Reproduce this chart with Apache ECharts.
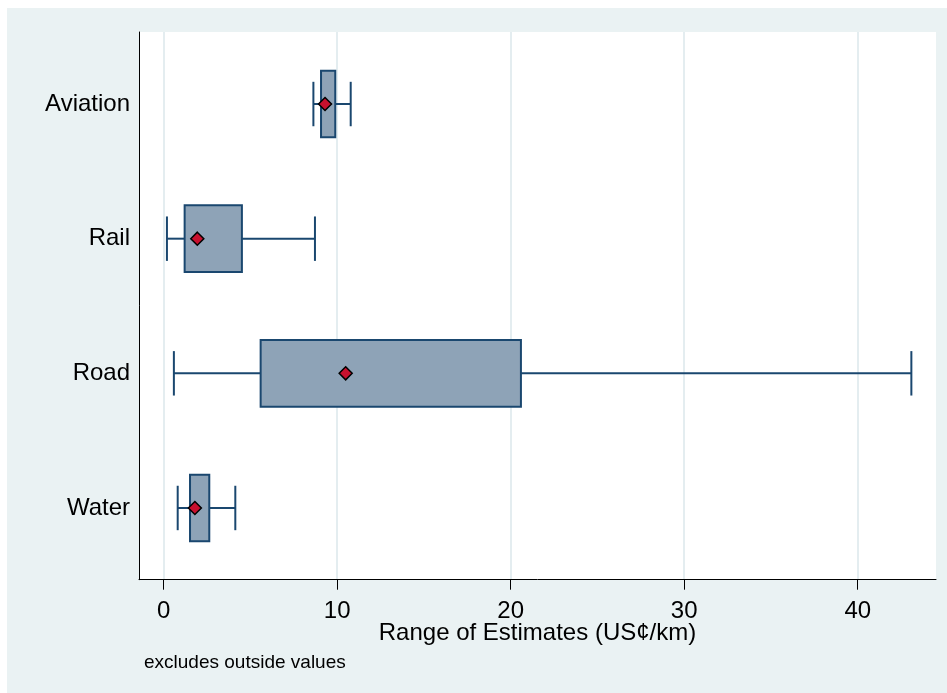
<!DOCTYPE html>
<html>
<head>
<meta charset="utf-8">
<script src="https://cdn.jsdelivr.net/npm/echarts@6/dist/echarts.min.js"></script>
<style>
  html, body { margin: 0; padding: 0; background: #ffffff; }
  #chart { position: absolute; left: 7px; top: 8px; width: 940px; height: 685px; }
</style>
</head>
<body>
<div id="chart"></div>
<script>
// Transport modes and their estimate ranges (US cents per km)
const categories   = ['Aviation', 'Rail', 'Road', 'Water'];
const whiskerLow   = [8.63, 0.19, 0.59, 0.81];
const boxLow       = [9.07, 1.21, 5.59, 1.52];
const boxHigh      = [9.89, 4.51, 20.59, 2.63];
const whiskerHigh  = [10.78, 8.72, 43.09, 4.13];
const means        = [9.30, 1.94, 10.49, 1.80];
const xTicks       = [0, 10, 20, 30, 40];

const NAVY = '#1A476F';
const FILL = '#8EA3B7';
const FONT = '"Liberation Sans", Arial, sans-serif';

const boxData = categories.map((c, i) => [i, whiskerLow[i], boxLow[i], boxHigh[i], whiskerHigh[i]]);
const meanData = categories.map((c, i) => [means[i], i]);

const chart = echarts.init(document.getElementById('chart'), null, { renderer: 'canvas' });

const X_MIN = -1.42, X_MAX = 44.51;

// whiskers, caps and the interquartile box for one category
function renderBox(params, api) {
  const cat = api.value(0);
  const lo = api.coord([api.value(1), cat]);
  const q1 = api.coord([api.value(2), cat]);
  const q3 = api.coord([api.value(3), cat]);
  const hi = api.coord([api.value(4), cat]);
  const band = api.size([0, 1])[1];
  const boxH = band * 0.495;
  const capH = band * 0.33;
  const y = lo[1];
  const lineStyle = { stroke: NAVY, lineWidth: 2, fill: null };
  return {
    type: 'group',
    children: [
      { type: 'line', shape: { x1: lo[0], y1: y, x2: q1[0], y2: y }, style: lineStyle },
      { type: 'line', shape: { x1: q3[0], y1: y, x2: hi[0], y2: y }, style: lineStyle },
      { type: 'line', shape: { x1: lo[0], y1: y - capH / 2, x2: lo[0], y2: y + capH / 2 }, style: lineStyle },
      { type: 'line', shape: { x1: hi[0], y1: y - capH / 2, x2: hi[0], y2: y + capH / 2 }, style: lineStyle },
      { type: 'rect', shape: { x: q1[0], y: y - boxH / 2, width: q3[0] - q1[0], height: boxH },
        style: { fill: FILL, stroke: NAVY, lineWidth: 2 } }
    ]
  };
}

chart.setOption({
  backgroundColor: '#EAF2F3',
  animation: false,
  grid: [
    { left: 132, right: 11, top: 24, bottom: 113.3, show: true, backgroundColor: '#ffffff', borderWidth: 0 },
    { left: 132, right: 11, top: 28.7, bottom: 117.7, show: false }
  ],
  xAxis: [
    {
      gridIndex: 0, type: 'value', min: X_MIN, max: X_MAX,
      interval: 10,
      axisLine: { show: true, onZero: false, lineStyle: { color: '#000', width: 1 } },
      axisTick: { show: true, length: 10, lineStyle: { color: '#000', width: 1 },
        customValues: xTicks },
      axisLabel: { show: true, margin: 20, fontSize: 24, color: '#000', fontFamily: FONT,
        customValues: xTicks },
      splitLine: { show: true, lineStyle: { color: '#E4EDF0', width: 2 } },
      name: 'Range of Estimates (US¢/km)', nameLocation: 'middle', nameGap: 42,
      nameMoveOverlap: false,
      nameTextStyle: { fontSize: 24, color: '#000', fontFamily: FONT }
    },
    {
      gridIndex: 1, type: 'value', min: X_MIN, max: X_MAX,
      axisLine: { show: false }, axisTick: { show: false }, axisLabel: { show: false },
      splitLine: { show: false }
    }
  ],
  yAxis: [
    {
      gridIndex: 0, type: 'value', min: 0, max: 1,
      axisLine: { show: true, onZero: false, lineStyle: { color: '#000', width: 1 } },
      axisTick: { show: false }, axisLabel: { show: false }, splitLine: { show: false }
    },
    {
      gridIndex: 1, type: 'category', data: categories, inverse: true,
      axisLine: { show: false }, axisTick: { show: false }, splitLine: { show: false },
      axisLabel: { margin: 9, fontSize: 24, color: '#000', fontFamily: FONT }
    }
  ],
  series: [
    {
      type: 'custom', xAxisIndex: 1, yAxisIndex: 1,
      renderItem: renderBox,
      encode: { x: [1, 2, 3, 4], y: 0 },
      data: boxData, z: 2, silent: true
    },
    {
      type: 'scatter', xAxisIndex: 1, yAxisIndex: 1,
      data: meanData, symbol: 'diamond', symbolSize: 13,
      itemStyle: { color: '#C8102E', borderColor: '#000', borderWidth: 1.5, opacity: 1 },
      z: 3, silent: true
    }
  ],
  graphic: [
    {
      type: 'text', left: 137, top: 645,
      style: { text: 'excludes outside values', fontSize: 19, fill: '#000', fontFamily: FONT }
    }
  ]
});
</script>
</body>
</html>
